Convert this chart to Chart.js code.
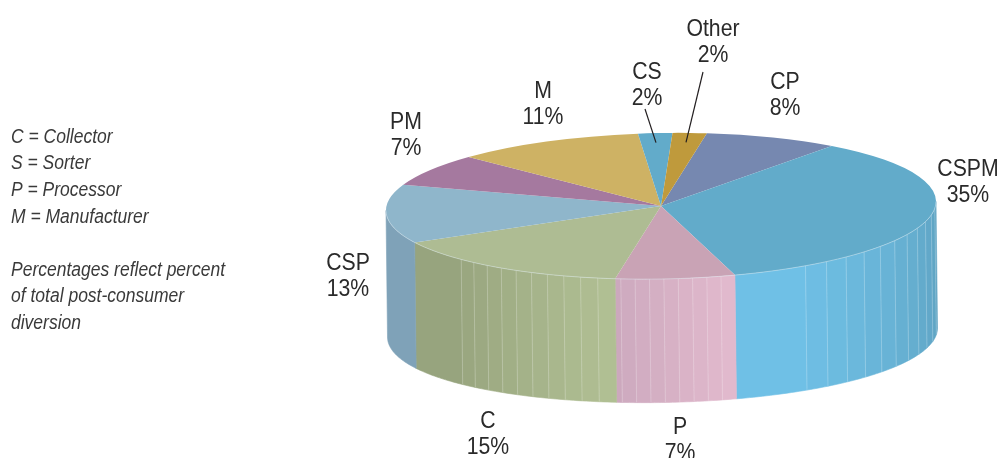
<!DOCTYPE html>
<html>
<head>
<meta charset="utf-8">
<style>html,body{margin:0;padding:0;background:#fff}canvas{display:block}</style>
<script src="https://cdn.jsdelivr.net/npm/chart.js@4"></script>
</head>
<body>
<canvas id="c" width="999" height="458"></canvas>
<script>
const categories = ['CP','CSPM','P','C','CSP','PM','M','CS','Other'];
const shares = [8,35,7,15,13,7,11,2,2];
const topColors = ['#7688b0','#62abca','#c9a3b5','#aebc93','#8fb6cb','#a5799f','#ceb264','#62abca','#bf9a3c'];
const wallRightColors = ['#7688b0','#5fa3c2','#e1b9cd','#b0bf93','#7fa2b8','#a5799f','#ceb264','#62abca','#bf9a3c'];
const wallLeftColors  = ['#7688b0','#6fc0e6','#cca8bd','#97a47e','#7fa2b8','#a5799f','#ceb264','#62abca','#bf9a3c'];
const facetDegrees = [0,5.3,3,3.7,0,0,0,0,0];
const flatTailDegrees = [0,16,0,17,0,0,0,0,0];
const labelCentres = [[785,88.5],[968,176],[680,434],[488,428],[348,270],[406,128.5],[543,98],[647,79],[713,36]];
const leaderStarts = {CS:[645,109], Other:[703,72]};
const notes = ['C = Collector','S = Sorter','P = Processor','M = Manufacturer','','Percentages reflect percent','of total post-consumer','diversion'];

const ROTATION = 9.6, RADIUS = 275, CX = 661, CY = 206, RY = 73, SHEAR = -0.0164, DEPTH = 123.5;
const rgb = h => [1,3,5].map(i => parseInt(h.substr(i,2),16));
const mix = (a,b,t) => { const A=rgb(a),B=rgb(b); return 'rgb('+A.map((v,i)=>Math.round(v+(B[i]-v)*t)).join(',')+')'; };
const top3d = a => { const c=Math.cos(a), s=Math.sin(a); return [CX+RADIUS*c, CY+RY*s+SHEAR*RADIUS*c]; };
const bot3d = a => { const p=top3d(a), c=Math.cos(a); return [p[0]+1.5, p[1]+DEPTH+3*c*c]; };
const norm = a => { const t=2*Math.PI; return ((a%t)+t)%t; };

function squeezedText(ctx,t,x,y,sx){
  ctx.save(); ctx.translate(x,y); ctx.scale(sx,1); ctx.fillText(t,0,0); ctx.restore();
}
function facet(ctx,a0,a1,fill){
  const n=Math.max(1,Math.ceil((a1-a0)/(Math.PI/180)));
  ctx.beginPath();
  for(let i=0;i<=n;i++){const p=top3d(a0+(a1-a0)*i/n); i?ctx.lineTo(p[0],p[1]):ctx.moveTo(p[0],p[1]);}
  for(let i=n;i>=0;i--){const p=bot3d(a0+(a1-a0)*i/n); ctx.lineTo(p[0],p[1]);}
  ctx.closePath();
  ctx.fillStyle=fill; ctx.strokeStyle=fill; ctx.lineWidth=0.6; ctx.fill(); ctx.stroke();
}

const pie3d = {
  id:'pie3d',
  beforeDatasetsDraw(chart){
    const ctx=chart.ctx, arcs=chart.getDatasetMeta(0).data;
    ctx.save();
    arcs.forEach((arc,i)=>{
      let s=norm(arc.startAngle), e=s+(arc.endAngle-arc.startAngle);
      if(s>Math.PI && e<2*Math.PI) return;
      if(s>Math.PI){ s-=2*Math.PI; e-=2*Math.PI; }
      const a0=Math.max(s,0), a1=Math.min(e,Math.PI);
      if(a1<=a0) return;
      const step=facetDegrees[i]*Math.PI/180, tail=flatTailDegrees[i]*Math.PI/180;
      if(!step){ facet(ctx,a0,a1,mix(wallRightColors[i],wallLeftColors[i],0.5)); return; }
      const seams=[]; let a=a0;
      while(a<a1-tail-step/2){
        const b=Math.min(a+step,a1);
        facet(ctx,a,b,mix(wallRightColors[i],wallLeftColors[i],(a-a0)/Math.max(a1-a0-tail,1e-6)));
        a=b; seams.push(a);
      }
      if(a<a1) facet(ctx,a,a1,wallLeftColors[i]);
      seams.forEach(t=>{
        if(t>=a1-1e-6) return;
        const p=top3d(t), q=bot3d(t);
        ctx.beginPath(); ctx.moveTo(p[0],p[1]); ctx.lineTo(q[0],q[1]);
        ctx.strokeStyle='rgba(255,255,255,0.22)'; ctx.lineWidth=1; ctx.stroke();
      });
    });
    ctx.restore();
    const a=arcs[0];
    ctx.save();
    ctx.transform(1, SHEAR, 0, RY/RADIUS, CX-a.x, CY-(RY/RADIUS)*a.y-SHEAR*a.x);
  },
  afterDatasetsDraw(chart){
    const ctx=chart.ctx, arcs=chart.getDatasetMeta(0).data;
    ctx.restore();
    ctx.save();
    ctx.beginPath();
    for(let d=0;d<=180;d+=2){const p=top3d(d*Math.PI/180); d?ctx.lineTo(p[0],p[1]):ctx.moveTo(p[0],p[1]);}
    ctx.strokeStyle='rgba(225,240,245,0.55)'; ctx.lineWidth=0.8; ctx.stroke();

    ctx.fillStyle='#2a2a2a'; ctx.strokeStyle='#231f20'; ctx.textAlign='center'; ctx.textBaseline='alphabetic';
    ctx.font='24px "Liberation Sans"';
    categories.forEach((name,i)=>{
      const [x,y]=labelCentres[i];
      squeezedText(ctx,name,x,y,0.885);
      squeezedText(ctx,shares[i]+'%',x,y+26,0.885);
      if(leaderStarts[name]){
        const m=(arcs[i].startAngle+arcs[i].endAngle)/2, p=top3d(m);
        const q=[p[0]+(CX-p[0])*0.13, p[1]+(CY-p[1])*0.13];
        ctx.beginPath(); ctx.moveTo(leaderStarts[name][0],leaderStarts[name][1]); ctx.lineTo(q[0],q[1]);
        ctx.lineWidth=1.2; ctx.stroke();
      }
    });
    ctx.textAlign='left'; ctx.fillStyle='#3a3a3a';
    ctx.font='italic 20px "Liberation Sans"';
    notes.forEach((t,i)=>{ if(t) squeezedText(ctx,t,11,142.7+i*26.6,0.875); });
    ctx.restore();
  }
};

new Chart(document.getElementById('c'),{
  type:'pie',
  data:{labels:categories,datasets:[{data:shares,backgroundColor:topColors,borderWidth:0,clip:false}]},
  options:{
    responsive:false,animation:false,rotation:ROTATION,radius:RADIUS,
    layout:{padding:{left:323}},
    plugins:{legend:{display:false},tooltip:{enabled:false}}
  },
  plugins:[pie3d]
});
</script>
</body>
</html>
